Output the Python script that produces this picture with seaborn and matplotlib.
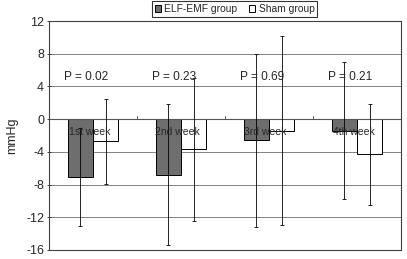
import numpy as np
import pandas as pd
import matplotlib
matplotlib.use("Agg")
import matplotlib.pyplot as plt
import seaborn as sns

weeks = ["1st week", "2nd week", "3rd week", "4th week"]
groups = ["ELF-EMF group", "Sham group"]
elf_mean = [-7.1, -6.8, -2.6, -1.4]
elf_sd = [6.0, 8.6, 10.6, 8.4]
sham_mean = [-2.7, -3.7, -1.4, -4.3]
sham_sd = [5.2, 8.7, 11.6, 6.2]
p_labels = ["P = 0.02", "P = 0.23", "P = 0.69", "P = 0.21"]
yticks = [12, 8, 4, 0, -4, -8, -12, -16]

sns.set_style("white")
plt.rcParams['font.family'] = ['Liberation Sans', 'DejaVu Sans']

df = pd.DataFrame({
    "week": weeks * 2,
    "group": [groups[0]] * 4 + [groups[1]] * 4,
    "value": elf_mean + sham_mean,
})

fig = plt.figure(figsize=(4.07, 2.59), dpi=100)
ax = fig.add_axes([49 / 407, 1 - 250 / 259, (401 - 49) / 407, (250 - 21) / 259])

sns.barplot(data=df, x="week", y="value", hue="group", order=weeks,
            hue_order=groups, palette=["#6e6e6e", "#ffffff"], width=0.57,
            edgecolor="black", linewidth=0.7, errorbar=None, ax=ax,
            legend=True, saturation=1)

# error bars at bar centers
sds = elf_sd + sham_sd
means = elf_mean + sham_mean
for p, m, s in zip(ax.patches[:8], means, sds):
    xc = p.get_x() + p.get_width() / 2
    ax.errorbar(xc, m, yerr=s, fmt="none", ecolor="black", elinewidth=0.6,
                capsize=1.5, capthick=0.6, zorder=5)

ax.set_xlim(-0.5, 3.5)
ax.set_ylim(-16, 12)
ax.set_yticks(yticks)
ax.set_yticklabels([str(t) for t in yticks], fontsize=9)
ax.set_xticks([])
ax.set_xlabel("")
ax.set_ylabel("mmHg", fontsize=9, labelpad=6)
ax.tick_params(axis="y", left=True, length=3, width=0.6, pad=2, direction="inout")

for y in yticks:
    ax.axhline(y, color="#808080", linewidth=0.7, zorder=0)
ax.axhline(0, color="#555555", linewidth=0.8, zorder=1)
for b in [0.5, 1.5, 2.5]:
    ax.plot([b, b], [0, 0.35], color="#555555", linewidth=0.7)

for sp in ax.spines.values():
    sp.set_color("#404040")
    sp.set_linewidth(0.8)

for i, w in enumerate(weeks):
    ax.text(i - 0.04, -1.6, w, ha="center", va="center", fontsize=7.5, zorder=6)
for i, t in enumerate(p_labels):
    ax.text(i - 0.08, 5.1, t, ha="center", va="center", fontsize=8.6, zorder=6)

leg = ax.get_legend()
handles = leg.legend_handles
leg.remove()
fig.legend(handles, groups, loc="center", bbox_to_anchor=(234.5 / 407, 1 - 9 / 259),
           ncol=2, fontsize=7.4, frameon=True, fancybox=False, edgecolor="black",
           handlelength=0.6, handleheight=0.6, handletextpad=0.35, columnspacing=1.1,
           borderpad=0.25, borderaxespad=0)
fig.legends[0].get_frame().set_linewidth(0.8)

fig.savefig("out.png", dpi=100)
